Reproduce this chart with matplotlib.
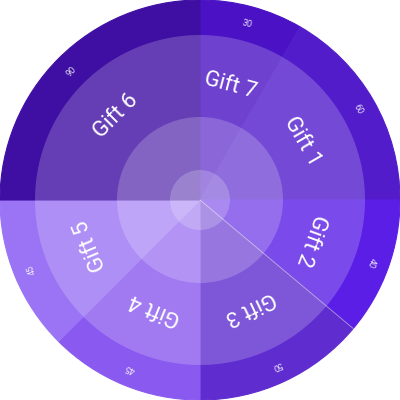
import numpy as np
import matplotlib
matplotlib.use("Agg")
import matplotlib.pyplot as plt

# -- data --
gifts = ["Gift 7", "Gift 1", "Gift 2", "Gift 3", "Gift 4", "Gift 5", "Gift 6"]
valores = [30, 60, 40, 50, 45, 45, 90]
colores = ["#4a12c4", "#521ccb", "#5b1ee6", "#5f2ccf", "#8a5af0", "#9a74f4", "#3f0fa3"]

plt.rcParams["font.family"] = ["Roboto", "DejaVu Sans"]

fig = plt.figure(figsize=(4, 4), dpi=100)
ax = fig.add_axes([0, 0, 1, 1])

wedges, _ = ax.pie(valores, colors=colores, startangle=90, counterclock=False, radius=1.0)
for w, c in zip(wedges, colores):
    w.set_edgecolor(c)
    w.set_linewidth(0.8)

# capas blancas translúcidas
for r in [0.825, 0.415, 0.15]:
    ax.add_patch(plt.Circle((0, 0), r, color="white", alpha=0.2, lw=0, zorder=3))

total = float(sum(valores))
acum = np.cumsum([0] + valores)
for i, (g, v) in enumerate(zip(gifts, valores)):
    medio = (acum[i] + v / 2.0) / total * 360.0  # grados desde arriba, sentido horario
    th = np.radians(90 - medio)
    rot = -medio
    ax.text(0.59 * np.cos(th), 0.59 * np.sin(th), g, rotation=rot, rotation_mode="anchor",
            ha="center", va="center", color="white", fontsize=16, zorder=5)
    ax.text(0.91 * np.cos(th), 0.91 * np.sin(th), str(v), rotation=rot, rotation_mode="anchor",
            ha="center", va="center", color="white", fontsize=6.5, alpha=0.85, zorder=5)

# línea blanca entre Gift 2 y Gift 3
b = np.radians(90 - acum[3] / total * 360.0)
ax.plot([0, np.cos(b)], [0, np.sin(b)], color="white", lw=0.6, alpha=0.5, zorder=4)

ax.set_xlim(-1, 1)
ax.set_ylim(-1, 1)
ax.set_aspect("equal")
ax.axis("off")

fig.savefig("out.png", dpi=100)
